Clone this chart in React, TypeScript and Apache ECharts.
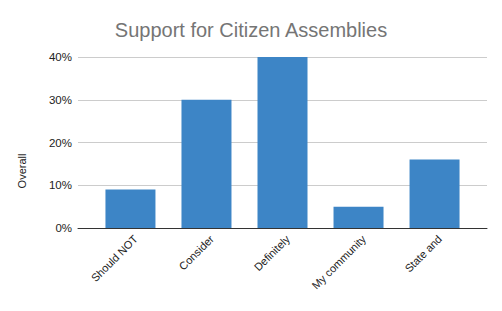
import React, { useEffect, useRef } from "react";
import * as echarts from "echarts";

const categories = ["Should NOT", "Consider", "Definitely", "My community", "State and"];
const values = [0.09, 0.3, 0.4, 0.05, 0.16];
const yTicks = [0, 0.1, 0.2, 0.3, 0.4];

const FONT = "'Liberation Sans', Arial, sans-serif";

export default function App() {
  const ref = useRef<HTMLDivElement>(null);
  useEffect(() => {
    if (!ref.current) return;
    const chart = echarts.init(ref.current, undefined, { renderer: "svg" });
    const labelShift = 0.07;
    chart.setOption({
      animation: false,
      backgroundColor: "#ffffff",
      textStyle: { fontFamily: FONT },
      title: {
        text: "Support for Citizen Assemblies",
        left: "center",
        top: 15,
        textStyle: { fontFamily: FONT, fontSize: 20, fontWeight: "normal", color: "#757575" },
      },
      grid: { left: 78, right: 15, top: 57, bottom: 83, containLabel: false },
      xAxis: {
        type: "value",
        min: -0.69,
        max: 4.69,
        axisTick: { show: false },
        splitLine: { show: false },
        axisLine: { show: true, onZero: false, lineStyle: { color: "#333333" } },
        axisLabel: {
          rotate: 45,
          fontSize: 11,
          color: "#222222",
          fontFamily: FONT,
          margin: 9,
          customValues: categories.map((_, i) => i + labelShift),
          formatter: (v: number) => categories[Math.round(v)] ?? "",
        },
      },
      yAxis: {
        type: "value",
        min: yTicks[0],
        max: yTicks[yTicks.length - 1],
        interval: 0.1,
        axisLine: { show: false },
        axisTick: { show: false },
        splitLine: { lineStyle: { color: "#cccccc" } },
        axisLabel: {
          fontSize: 11.5,
          color: "#222222",
          fontFamily: FONT,
          margin: 6,
          formatter: (v: number) => `${Math.round(v * 100)}%`,
        },
      },
      graphic: [
        {
          type: "text",
          x: 22,
          y: 171,
          rotation: Math.PI / 2,
          style: {
            text: "Overall",
            font: `11px ${FONT}`,
            fill: "#222222",
            align: "center",
            verticalAlign: "middle",
          },
        },
      ],
      series: [
        {
          type: "bar",
          data: values.map((v, i) => [i, v]),
          barWidth: 50,
          itemStyle: { color: "#3d85c6" },
        },
      ],
    });
    return () => chart.dispose();
  }, []);
  return <div ref={ref} style={{ position: "fixed", left: 0, top: 0, width: 502, height: 311 }} />;
}
